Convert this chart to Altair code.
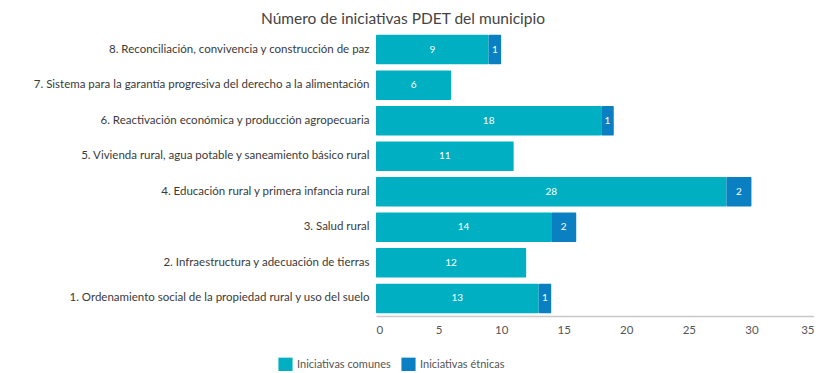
import altair as alt
import pandas as pd

categories = [
    "8. Reconciliación, convivencia y construcción de paz",
    "7. Sistema para la garantía progresiva del derecho a la alimentación",
    "6. Reactivación económica y producción agropecuaria",
    "5. Vivienda rural, agua potable y saneamiento básico rural",
    "4. Educación rural y primera infancia rural",
    "3. Salud rural",
    "2. Infraestructura y adecuación de tierras",
    "1. Ordenamiento social de la propiedad rural y uso del suelo",
]
comunes = [9, 6, 18, 11, 28, 14, 12, 13]
etnicas = [1, 0, 1, 0, 2, 2, 0, 1]
series = ["Iniciativas comunes", "Iniciativas étnicas"]
colors = ["#00AFC1", "#0A80C2"]
x_ticks = [0, 5, 10, 15, 20, 25, 30, 35]

rows = []
for c, a, b in zip(categories, comunes, etnicas):
    rows.append({"cat": c, "serie": series[0], "value": a, "ord": 0})
    rows.append({"cat": c, "serie": series[1], "value": b, "ord": 1})
df = pd.DataFrame(rows)

FONT = "Lato"

base = alt.Chart(df).transform_stack(
    stack="value", as_=["v0", "v1"], groupby=["cat"], sort=[alt.SortField("ord")]
).transform_calculate(mid="(datum.v0 + datum.v1) / 2")

y_enc = alt.Y(
    "cat:N",
    sort=categories,
    title=None,
    scale=alt.Scale(paddingInner=0.17, paddingOuter=0.08),
    axis=alt.Axis(domain=False, ticks=False, labelLimit=400, labelPadding=7,
                  labelFontSize=11.5, labelColor="#3a3a3a", labelFont=FONT),
)

bars = base.mark_bar(cornerRadius=1).encode(
    x=alt.X("v0:Q", title=None,
            scale=alt.Scale(domain=[0, 35], nice=False),
            axis=alt.Axis(values=x_ticks, grid=False, ticks=False, domainColor="#c8c8c8",
                          domainWidth=1.5, labelColor="#555555", labelFontSize=11.5,
                          labelFont=FONT, labelPadding=8)),
    x2="v1:Q",
    y=y_enc,
    color=alt.Color("serie:N", scale=alt.Scale(domain=series, range=colors),
                    legend=alt.Legend(title=None, orient="none", legendX=-98, legendY=325,
                                      direction="horizontal", symbolType="square",
                                      symbolSize=200, symbolStrokeWidth=0,
                                      labelFontSize=11, labelColor="#555555",
                                      labelFont=FONT, columnPadding=10)),
)

texts = base.transform_filter("datum.value > 0").mark_text(
    color="white", fontSize=10, font=FONT
).encode(
    x="mid:Q",
    y=alt.Y("cat:N", sort=categories),
    text="value:Q",
)

chart = (bars + texts).properties(
    width=438,
    height=284,
    padding={"left": 368, "top": 24, "right": 0, "bottom": 55},
    autosize=alt.AutoSizeParams(type="none"),
    title=alt.TitleParams("Número de iniciativas PDET del municipio", fontSize=15.5,
                          fontWeight="normal", color="#444444", font=FONT,
                          anchor="middle", dx=-192, offset=5),
).configure_view(stroke=None)

chart.save("out.html", embed_options={"renderer": "svg", "actions": False})
